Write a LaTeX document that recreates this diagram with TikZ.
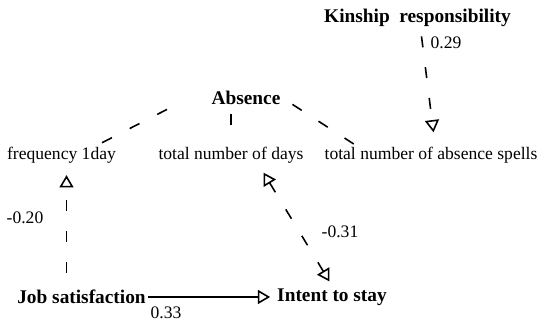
\documentclass[tikz,border=0pt]{standalone}
\usepackage{fontspec}
\setmainfont{Liberation Serif}
\usepackage{tikz}
\usetikzlibrary{arrows.meta}

\begin{document}
\begin{tikzpicture}[
			mynode/.style={inner sep=1pt, font=\fontsize{10}{12}\selectfont},
			bignode/.style={inner sep=1pt, font=\fontsize{11}{13}\selectfont\bfseries},
			mylink/.style={line width=0.9pt, dash pattern=on 0.22cm off 0.4cm},
			myarrow/.style={-{Triangle[open,length=7pt,width=8pt]}}
		]
		\useasboundingbox (0,0) rectangle (10.82,6.48);

		\node[bignode] (kin) at (8.35,6.12) {Kinship\ \ responsibility};
		\node[bignode] (abs) at (4.92,4.52) {Absence};
		\node[mynode] (freq) at (1.23,3.38) {frequency 1day};
		\node[mynode] (days) at (4.62,3.38) {total number of days};
		\node[mynode] (spells) at (8.62,3.38) {total number of absence spells};
		\node[bignode] (job) at (1.63,0.54) {Job satisfaction};
		\node[bignode] (stay) at (6.64,0.54) {Intent to stay};

		\node[mynode] (k29) at (8.92,5.62) {0.29};
		\node[mynode] (j20) at (0.5,2.12) {-0.20};
		\node[mynode] (d31) at (6.8,1.84) {-0.31};
		\node[mynode] (j33) at (3.32,0.22) {0.33};

		\draw[mylink] ([xshift=-0.85cm,yshift=-0.05cm]abs.south west) -- ([xshift=-0.4cm]freq.north east);
		\draw[mylink] ([yshift=-0.15cm]abs.south -| days.north) -- (days.north);
		\draw[mylink] ([xshift=0.2cm,yshift=0.05cm]abs.south east) -- ([xshift=0.65cm]spells.north west);
		\draw[mylink,myarrow] ([xshift=0.08cm,yshift=-0.15cm]kin.south) -- ([xshift=0.05cm,yshift=0.25cm]spells.north);

		\draw[mylink,myarrow] ([xshift=0.1cm,yshift=0.3cm]job.north -| freq.south) -- ([xshift=0.1cm,yshift=-0.2cm]freq.south);
		\draw[mylink,{Triangle[open,length=7pt,width=8pt]}-{Triangle[open,length=7pt,width=8pt]}] ([xshift=0.65cm,yshift=-0.15cm]days.south) -- ([xshift=-0.05cm,yshift=0.1cm]stay.north);
		\draw[line width=0.9pt,myarrow,shorten >=0.1cm] (job.east) -- (stay.west);

	\end{tikzpicture}
\end{document}
